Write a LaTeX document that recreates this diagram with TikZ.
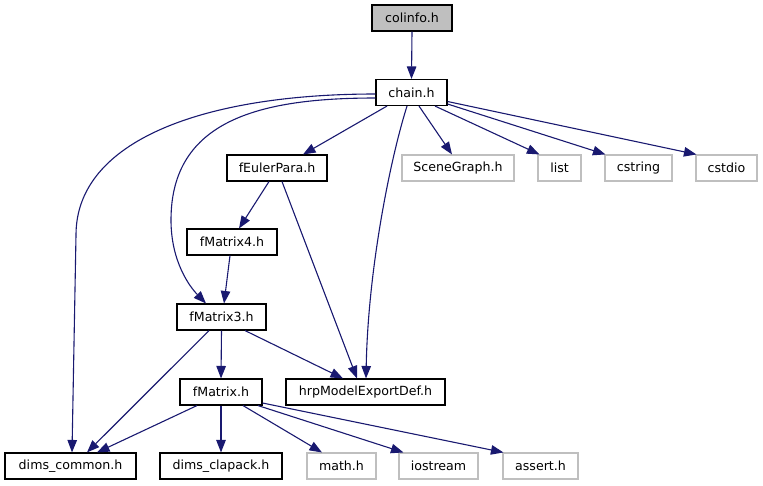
\documentclass[tikz,border=0pt]{standalone}
\usepackage{fontspec}
\setmainfont{DejaVu Sans}
\usetikzlibrary{arrows.meta}
\definecolor{edgecol}{HTML}{191970}
\definecolor{graybd}{HTML}{BFBFBF}
\tikzset{
  fbox/.style={draw=black, line width=1.1pt, minimum height=26pt, inner sep=0pt, anchor=center,
    font=\fontsize{12.6}{15}\selectfont},
  gbox/.style={fbox, draw=graybd},
  dep/.style={draw=edgecol, line width=1.1pt, -{Triangle[length=12.5pt,width=9.5pt]}, color=edgecol}
}
\begin{document}
\begin{tikzpicture}[x=1pt,y=-1pt]
\useasboundingbox (0,0) rectangle (763,485);
% nodes
\node[fbox, fill=graybd, minimum width=80pt] (colinfo) at (412,18) {colinfo.h};
\node[fbox, minimum width=71pt] (chain) at (411.5,92.5) {chain.h};
\node[fbox, minimum width=100pt] (feuler) at (277,168) {fEulerPara.h};
\node[gbox, minimum width=112pt] (scene) at (458,168) {SceneGraph.h};
\node[gbox, minimum width=43pt] (list) at (559.5,168) {list};
\node[gbox, minimum width=67pt] (cstring) at (638.5,168) {cstring};
\node[gbox, minimum width=61pt] (cstdio) at (726.5,168) {cstdio};
\node[fbox, minimum width=90pt] (fm4) at (232,242) {fMatrix4.h};
\node[fbox, minimum width=89pt] (fm3) at (221.5,317) {fMatrix3.h};
\node[fbox, minimum width=82pt] (fm) at (221,392) {fMatrix.h};
\node[fbox, minimum width=159pt] (hrp) at (365.5,392) {hrpModelExportDef.h};
\node[fbox, minimum width=131pt] (dimsc) at (70.5,466) {dims\_common.h};
\node[fbox, minimum width=122pt] (dimsl) at (221,466) {dims\_clapack.h};
\node[gbox, minimum width=69pt] (math) at (341.5,466) {math.h};
\node[gbox, minimum width=79pt] (iostream) at (438.5,466) {iostream};
\node[gbox, minimum width=75pt] (assert) at (540.5,466) {assert.h};
% edges
\draw[dep] (colinfo.south) -- (chain.north);
\draw[dep] ([xshift=-24.5pt]chain.south) -- ([xshift=26pt]feuler.north);
\draw[dep] ([xshift=7.5pt]chain.south) -- ([xshift=-6pt]scene.north);
\draw[dep] ([xshift=23.5pt]chain.south) -- ([xshift=2pt]list.north west);
\draw[dep] ([yshift=-11.5pt]chain.east) -- ([xshift=1pt]cstring.north west);
\draw[dep] ([yshift=-9pt]chain.east) -- ([xshift=1pt]cstdio.north west);
\draw[dep] ([yshift=-1.5pt]chain.west) .. controls (205,94) and (76,140) .. (76,235) -- ([xshift=1.5pt]dimsc.north);
\draw[dep] ([yshift=-5.5pt]chain.west) .. controls (260,98) and (171,120) .. (171,220) .. controls (171,262) and (190,287) .. ([xshift=-15.5pt]fm3.north);
\draw[dep] ([xshift=-4.5pt]chain.south) .. controls (390,160) and (368,270) .. ([xshift=0.5pt]hrp.north);
\draw[dep] ([xshift=-8pt]feuler.south) -- ([xshift=7pt]fm4.north);
\draw[dep] ([xshift=5pt]feuler.south) -- ([xshift=-8.5pt]hrp.north);
\draw[dep] ([xshift=-2pt]fm4.south) -- ([xshift=2.5pt]fm3.north);
\draw[dep] (fm3.south) -- (fm.north);
\draw[dep] ([xshift=23.5pt]fm3.south) -- ([xshift=-22.5pt]hrp.north);
\draw[dep] ([xshift=-12.5pt]fm3.south) -- ([xshift=16.5pt]dimsc.north);
\draw[dep] ([xshift=-24pt]fm.south) -- ([xshift=26.5pt]dimsc.north);
\draw[dep] (fm.south) -- (dimsl.north);
\draw[dep] ([xshift=22pt]fm.south) -- ([xshift=-19.5pt]math.north);
\draw[dep] ([xshift=37pt]fm.south) -- ([xshift=5pt]iostream.north west);
\draw[dep] ([yshift=-11pt]fm.east) -- ([xshift=1pt]assert.north west);
\end{tikzpicture}
\end{document}
